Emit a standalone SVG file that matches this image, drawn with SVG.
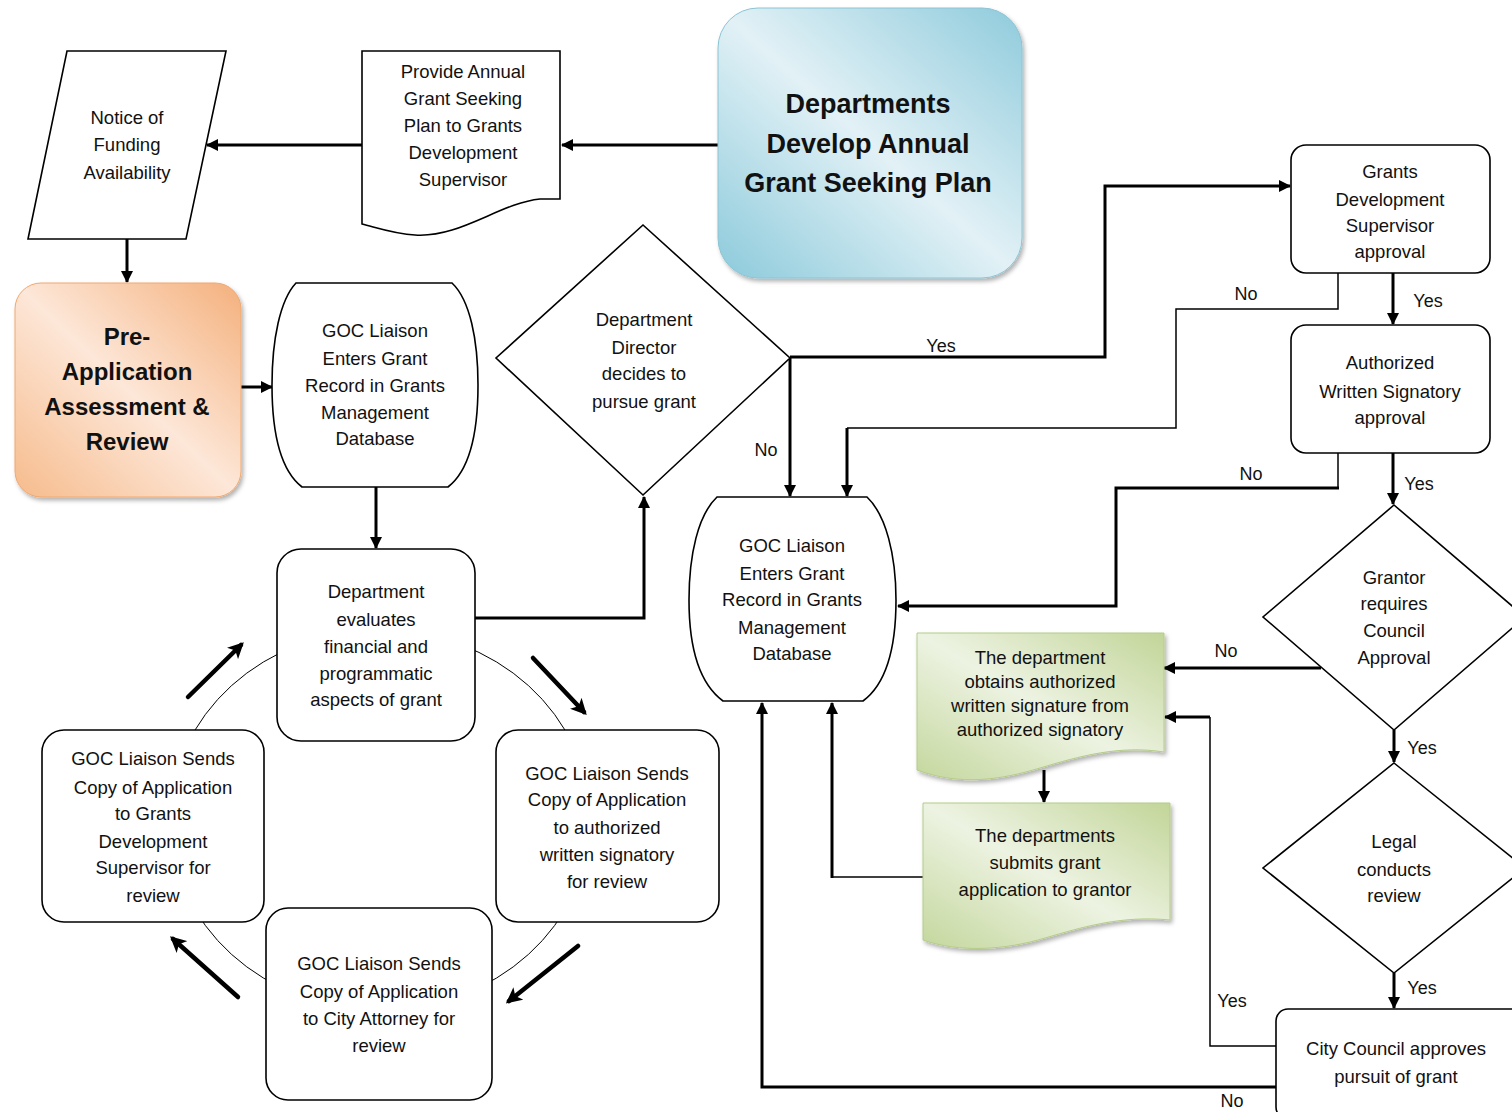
<svg xmlns="http://www.w3.org/2000/svg" width="1512" height="1112" viewBox="0 0 1512 1112">
<style>
  .n { fill: #fff; stroke: #000; stroke-width: 1.6; }
  .t { font-family: "Liberation Sans", Arial, sans-serif; font-size: 18.5px; fill: #111; text-anchor: middle; }
  .b { font-family: "Liberation Sans", Arial, sans-serif; font-weight: bold; fill: #111; text-anchor: middle; }
  .lbl { font-family: "Liberation Sans", Arial, sans-serif; font-size: 18px; fill: #111; text-anchor: middle; }
  .c { fill: none; stroke: #000; stroke-width: 3; }
  .ct { fill: none; stroke: #000; stroke-width: 1.5; }
  .cy { fill: none; stroke: #000; stroke-width: 4.5; stroke-linecap: round; }
</style>
<defs>
  <marker id="ah" markerUnits="userSpaceOnUse" markerWidth="12" markerHeight="12" refX="11" refY="6" orient="auto">
    <path d="M0,0 L12,6 L0,12 Z" fill="#000"/>
  </marker>
  <marker id="ahc" markerUnits="userSpaceOnUse" markerWidth="16" markerHeight="16" refX="12" refY="8" orient="auto">
    <path d="M0,0 L16,8 L0,16 L4,8 Z" fill="#000"/>
  </marker>
  <linearGradient id="gBlue" x1="0" y1="1" x2="1" y2="0">
    <stop offset="0" stop-color="#8ccadb"/>
    <stop offset="0.5" stop-color="#e2f1f6"/>
    <stop offset="1" stop-color="#8fcbdc"/>
  </linearGradient>
  <linearGradient id="gOrange" x1="0" y1="1" x2="1" y2="0">
    <stop offset="0" stop-color="#f6bb8c"/>
    <stop offset="0.5" stop-color="#fde7d8"/>
    <stop offset="1" stop-color="#f4b07c"/>
  </linearGradient>
  <linearGradient id="gGreen" x1="0" y1="1" x2="1" y2="0">
    <stop offset="0" stop-color="#c4d79d"/>
    <stop offset="0.5" stop-color="#edf3e2"/>
    <stop offset="1" stop-color="#c2d598"/>
  </linearGradient>
  <filter id="sh" x="-10%" y="-10%" width="125%" height="125%">
    <feDropShadow dx="2" dy="3" stdDeviation="2" flood-color="#000" flood-opacity="0.3"/>
  </filter>
</defs>
<rect width="1512" height="1112" fill="#fff"/>

<!-- cycle ellipse (behind boxes) -->
<ellipse cx="380" cy="820" rx="210" ry="190" fill="none" stroke="#000" stroke-width="1"/>

<g id="connectors">
  <path class="c" d="M718,145 H562" marker-end="url(#ah)"/>
  <path class="c" d="M362,145 H207" marker-end="url(#ah)"/>
  <path class="c" d="M127,239 V282" marker-end="url(#ah)"/>
  <path class="c" d="M241,387 H272" marker-end="url(#ah)"/>
  <path class="c" d="M376,487 V548" marker-end="url(#ah)"/>
  <path class="c" d="M475,618 H644 V497" marker-end="url(#ah)"/>
  <path class="c" d="M790,357 H1105 V186 H1290" marker-end="url(#ah)"/>
  <path class="c" d="M790,357 V496" marker-end="url(#ah)"/>
  <path class="ct" d="M1338,273 V309 H1176 V428 H847"/>
  <path class="c" d="M847,428 V496" marker-end="url(#ah)"/>
  <path class="c" d="M1393,273 V324" marker-end="url(#ah)"/>
  <path class="ct" d="M1338,453 V488"/>
  <path class="c" d="M1339,488 H1116 V606 H898" marker-end="url(#ah)"/>
  <path class="c" d="M1393,453 V504" marker-end="url(#ah)"/>
  <path class="c" d="M1321,668 H1164" marker-end="url(#ah)"/>
  <path class="c" d="M1394,730 V762" marker-end="url(#ah)"/>
  <path class="c" d="M1394,973 V1008" marker-end="url(#ah)"/>
  <path class="ct" d="M1276,1046 H1210 V717"/>
  <path class="c" d="M1210,717 H1165" marker-end="url(#ah)"/>
  <path class="c" d="M1276,1087 H762 V703" marker-end="url(#ah)"/>
  <path class="c" d="M1044,770 V802" marker-end="url(#ah)"/>
  <path class="ct" d="M923,877 H832"/>
  <path class="c" d="M832,878 V703" marker-end="url(#ah)"/>
  <!-- cycle arrows -->
  <path class="cy" d="M188,697 L241,645" marker-end="url(#ahc)"/>
  <path class="cy" d="M533,658 L584,712" marker-end="url(#ahc)"/>
  <path class="cy" d="M578,946 L509,1001" marker-end="url(#ahc)"/>
  <path class="cy" d="M238,997 L173,939" marker-end="url(#ahc)"/>
  <!-- labels -->
  <text class="lbl" x="941" y="352">Yes</text>
  <text class="lbl" x="766" y="456">No</text>
  <text class="lbl" x="1246" y="300">No</text>
  <text class="lbl" x="1428" y="307">Yes</text>
  <text class="lbl" x="1251" y="480">No</text>
  <text class="lbl" x="1419" y="490">Yes</text>
  <text class="lbl" x="1226" y="657">No</text>
  <text class="lbl" x="1422" y="754">Yes</text>
  <text class="lbl" x="1422" y="994">Yes</text>
  <text class="lbl" x="1232" y="1007">Yes</text>
  <text class="lbl" x="1232" y="1107">No</text>
</g>

<g id="notice">
  <path class="n" d="M67,51 H226 L186,239 H28 Z"/>
  <text class="t" x="127" y="124">Notice of</text>
  <text class="t" x="127" y="151">Funding</text>
  <text class="t" x="127" y="179">Availability</text>
</g>

<g id="provide">
  <path class="n" d="M362,51 H560 V199 H540 C500,203 460,238 415,235 C395,234 378,228 362,224 Z"/>
  <text class="t" x="463" y="78">Provide Annual</text>
  <text class="t" x="463" y="105">Grant Seeking</text>
  <text class="t" x="463" y="132">Plan to Grants</text>
  <text class="t" x="463" y="159">Development</text>
  <text class="t" x="463" y="186">Supervisor</text>
</g>

<g id="departments">
  <rect x="718" y="8" width="304" height="270" rx="40" fill="url(#gBlue)" stroke="#8cc4d4" stroke-width="1" filter="url(#sh)"/>
  <text class="b" font-size="27" x="868" y="113">Departments</text>
  <text class="b" font-size="27" x="868" y="153">Develop Annual</text>
  <text class="b" font-size="27" x="868" y="192">Grant Seeking Plan</text>
</g>

<g id="preapp">
  <rect x="15" y="283" width="226" height="214" rx="26" fill="url(#gOrange)" stroke="#f0a870" stroke-width="1" filter="url(#sh)"/>
  <text class="b" font-size="24" x="127" y="345">Pre-</text>
  <text class="b" font-size="24" x="127" y="380">Application</text>
  <text class="b" font-size="24" x="127" y="415">Assessment &amp;</text>
  <text class="b" font-size="24" x="127" y="450">Review</text>
</g>

<g id="goc1">
  <path class="n" d="M296,283 H452 C470,300 478,340 478,385 C478,432 470,470 448,487 H302 C280,470 272,432 272,385 C272,340 280,300 296,283 Z"/>
  <text class="t" x="375" y="337">GOC Liaison</text>
  <text class="t" x="375" y="365">Enters Grant</text>
  <text class="t" x="375" y="392">Record in Grants</text>
  <text class="t" x="375" y="419">Management</text>
  <text class="t" x="375" y="445">Database</text>
</g>

<g id="decision">
  <path class="n" d="M643,225 L790,358 L643,495 L496,358 Z"/>
  <text class="t" x="644" y="326">Department</text>
  <text class="t" x="644" y="354">Director</text>
  <text class="t" x="644" y="380">decides to</text>
  <text class="t" x="644" y="408">pursue grant</text>
</g>

<g id="evaluate">
  <rect class="n" x="277" y="549" width="198" height="192" rx="24"/>
  <text class="t" x="376" y="598">Department</text>
  <text class="t" x="376" y="626">evaluates</text>
  <text class="t" x="376" y="653">financial and</text>
  <text class="t" x="376" y="680">programmatic</text>
  <text class="t" x="376" y="706">aspects of grant</text>
</g>

<g id="send-gds">
  <rect class="n" x="42" y="730" width="222" height="192" rx="22"/>
  <text class="t" x="153" y="765">GOC Liaison Sends</text>
  <text class="t" x="153" y="794">Copy of Application</text>
  <text class="t" x="153" y="820">to Grants</text>
  <text class="t" x="153" y="848">Development</text>
  <text class="t" x="153" y="874">Supervisor for</text>
  <text class="t" x="153" y="902">review</text>
</g>

<g id="send-signatory">
  <rect class="n" x="496" y="730" width="223" height="192" rx="22"/>
  <text class="t" x="607" y="780">GOC Liaison Sends</text>
  <text class="t" x="607" y="806">Copy of Application</text>
  <text class="t" x="607" y="834">to authorized</text>
  <text class="t" x="607" y="861">written signatory</text>
  <text class="t" x="607" y="888">for review</text>
</g>

<g id="send-attorney">
  <rect class="n" x="266" y="908" width="226" height="192" rx="22"/>
  <text class="t" x="379" y="970">GOC Liaison Sends</text>
  <text class="t" x="379" y="998">Copy of Application</text>
  <text class="t" x="379" y="1025">to City Attorney for</text>
  <text class="t" x="379" y="1052">review</text>
</g>

<g id="goc2">
  <path class="n" d="M717,497 H867 C886,515 896,555 896,600 C896,648 886,684 863,701 H723 C700,684 689,648 689,600 C689,555 698,515 717,497 Z"/>
  <text class="t" x="792" y="552">GOC Liaison</text>
  <text class="t" x="792" y="580">Enters Grant</text>
  <text class="t" x="792" y="606">Record in Grants</text>
  <text class="t" x="792" y="634">Management</text>
  <text class="t" x="792" y="660">Database</text>
</g>

<g id="gds-approval">
  <rect class="n" x="1291" y="145" width="199" height="128" rx="15"/>
  <text class="t" x="1390" y="178">Grants</text>
  <text class="t" x="1390" y="206">Development</text>
  <text class="t" x="1390" y="232">Supervisor</text>
  <text class="t" x="1390" y="258">approval</text>
</g>

<g id="signatory-approval">
  <rect class="n" x="1291" y="325" width="199" height="128" rx="15"/>
  <text class="t" x="1390" y="369">Authorized</text>
  <text class="t" x="1390" y="398">Written Signatory</text>
  <text class="t" x="1390" y="424">approval</text>
</g>

<g id="grantor">
  <path class="n" d="M1394,505 L1525,617 L1394,730 L1263,617 Z"/>
  <text class="t" x="1394" y="584">Grantor</text>
  <text class="t" x="1394" y="610">requires</text>
  <text class="t" x="1394" y="637">Council</text>
  <text class="t" x="1394" y="664">Approval</text>
</g>

<g id="legal">
  <path class="n" d="M1394,763 L1525,868 L1394,973 L1263,868 Z"/>
  <text class="t" x="1394" y="848">Legal</text>
  <text class="t" x="1394" y="876">conducts</text>
  <text class="t" x="1394" y="902">review</text>
</g>

<g id="city-council">
  <rect class="n" x="1276" y="1009" width="250" height="110" rx="12"/>
  <text class="t" x="1396" y="1055">City Council approves</text>
  <text class="t" x="1396" y="1083">pursuit of grant</text>
</g>

<g id="obtain-signature">
  <path d="M917,633 H1164 V752 C1120,745 1080,756 1040,768 C1000,780 960,786 917,770 Z" fill="url(#gGreen)" stroke="#b5cc88" stroke-width="1" filter="url(#sh)"/>
  <text class="t" x="1040" y="664">The department</text>
  <text class="t" x="1040" y="688">obtains authorized</text>
  <text class="t" x="1040" y="712">written signature from</text>
  <text class="t" x="1040" y="736">authorized signatory</text>
</g>

<g id="submit-application">
  <path d="M923,803 H1170 V920 C1120,915 1080,928 1045,938 C1005,950 960,953 923,940 Z" fill="url(#gGreen)" stroke="#b5cc88" stroke-width="1" filter="url(#sh)"/>
  <text class="t" x="1045" y="842">The departments</text>
  <text class="t" x="1045" y="869">submits grant</text>
  <text class="t" x="1045" y="896">application to grantor</text>
</g>
</svg>
